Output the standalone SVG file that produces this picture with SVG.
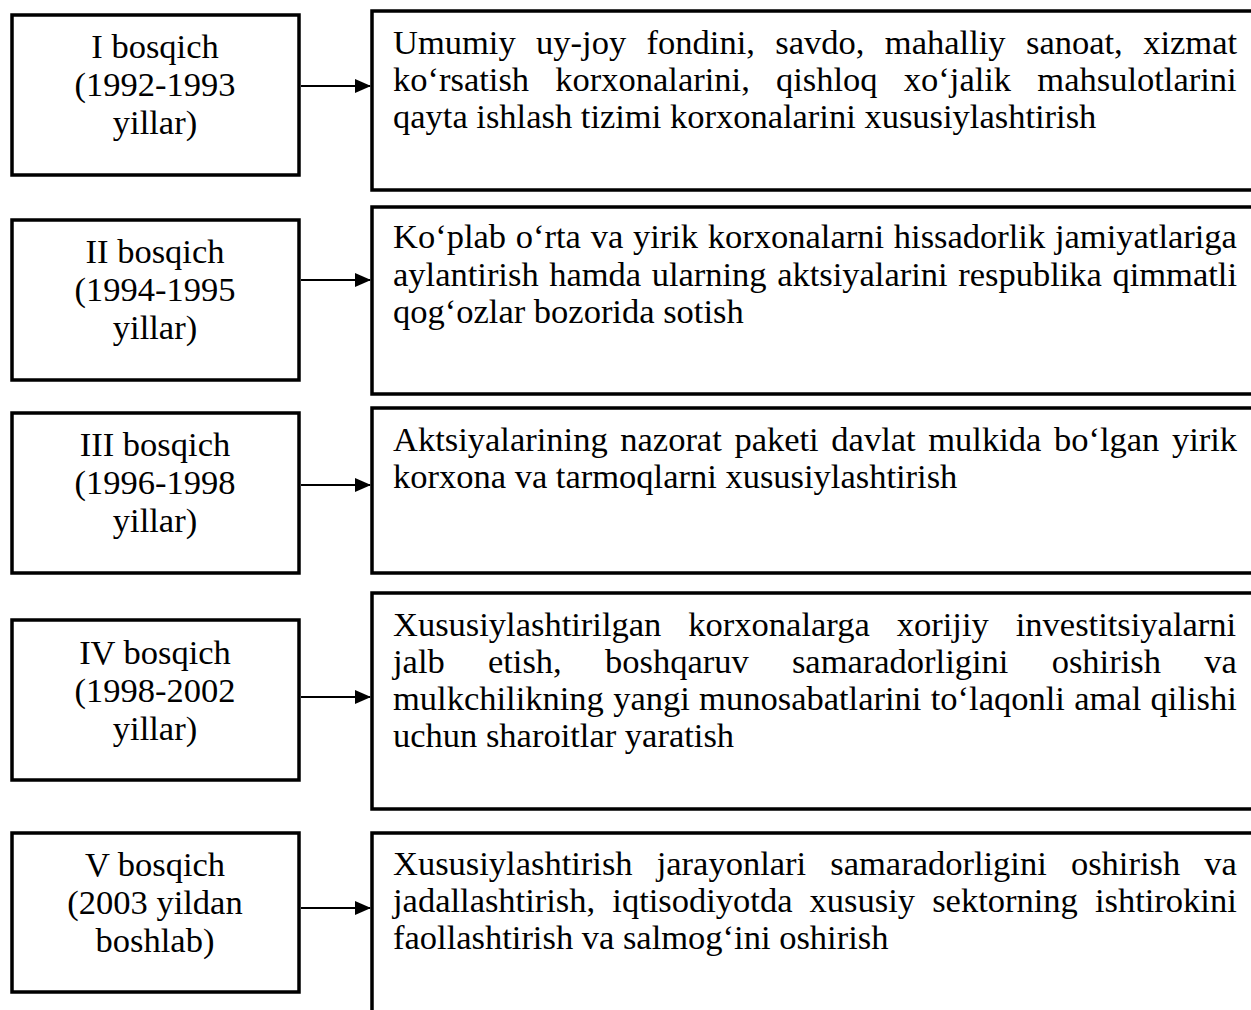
<svg xmlns="http://www.w3.org/2000/svg" width="1251" height="1010" viewBox="0 0 1251 1010">
<style>
.box{fill:#fff;stroke:#000;stroke-width:3.5}
.t{font-family:"Liberation Serif","Times New Roman",serif;font-size:34.5px;fill:#000}
.c{text-anchor:middle}
.conn{stroke:#000;stroke-width:2;fill:none}
</style>
<defs>
<marker id="ah" markerWidth="16" markerHeight="14" refX="15" refY="7" orient="auto" markerUnits="userSpaceOnUse">
<path d="M0,0 L16,7 L0,14 Z" fill="#000"/>
</marker>
</defs>
<rect width="1251" height="1010" fill="#fff"/>

<g id="stage1">
<rect class="box" x="12" y="15" width="287" height="160"/>
<text class="t c" x="155"><tspan x="155" y="57.5">I bosqich</tspan><tspan x="155" y="95.5">(1992-1993</tspan><tspan x="155" y="133.5">yillar)</tspan></text>
</g>
<g id="desc1">
<rect class="box" x="372" y="11" width="900" height="179"/>
<text class="t" x="393" y="54" style="word-spacing:11.8px">Umumiy uy-joy fondini, savdo, mahalliy sanoat, xizmat</text>
<text class="t" x="393" y="91" style="word-spacing:17.6px">ko‘rsatish korxonalarini, qishloq xo‘jalik mahsulotlarini</text>
<text class="t" x="393" y="128">qayta ishlash tizimi korxonalarini xususiylashtirish</text>
</g>

<g id="stage2">
<rect class="box" x="12" y="220" width="287" height="160"/>
<text class="t c" x="155"><tspan x="155" y="263">II bosqich</tspan><tspan x="155" y="301">(1994-1995</tspan><tspan x="155" y="339">yillar)</tspan></text>
</g>
<g id="desc2">
<rect class="box" x="372" y="207" width="900" height="187"/>
<text class="t" x="393" y="248" style="word-spacing:1.1px">Ko‘plab o‘rta va yirik korxonalarni hissadorlik jamiyatlariga</text>
<text class="t" x="393" y="285.5" style="word-spacing:1.9px">aylantirish hamda ularning aktsiyalarini respublika qimmatli</text>
<text class="t" x="393" y="323">qog‘ozlar bozorida sotish</text>
</g>

<g id="stage3">
<rect class="box" x="12" y="413" width="287" height="160"/>
<text class="t c" x="155"><tspan x="155" y="455.5">III bosqich</tspan><tspan x="155" y="493.5">(1996-1998</tspan><tspan x="155" y="531.5">yillar)</tspan></text>
</g>
<g id="desc3">
<rect class="box" x="372" y="408" width="900" height="165"/>
<text class="t" x="393" y="451" style="word-spacing:4px">Aktsiyalarining nazorat paketi davlat mulkida bo‘lgan yirik</text>
<text class="t" x="393" y="488">korxona va tarmoqlarni xususiylashtirish</text>
</g>

<g id="stage4">
<rect class="box" x="12" y="620" width="287" height="160"/>
<text class="t c" x="155"><tspan x="155" y="664">IV bosqich</tspan><tspan x="155" y="702">(1998-2002</tspan><tspan x="155" y="740">yillar)</tspan></text>
</g>
<g id="desc4">
<rect class="box" x="372" y="593" width="900" height="216"/>
<text class="t" x="393" y="636" style="word-spacing:18.4px">Xususiylashtirilgan korxonalarga xorijiy investitsiyalarni</text>
<text class="t" x="393" y="673" style="word-spacing:34.6px">jalb etish, boshqaruv samaradorligini oshirish va</text>
<text class="t" x="393" y="710" style="word-spacing:0.7px">mulkchilikning yangi munosabatlarini to‘laqonli amal qilishi</text>
<text class="t" x="393" y="747">uchun sharoitlar yaratish</text>
</g>

<g id="stage5">
<rect class="box" x="12" y="833" width="287" height="159"/>
<text class="t c" x="155"><tspan x="155" y="876">V bosqich</tspan><tspan x="155" y="914">(2003 yildan</tspan><tspan x="155" y="952">boshlab)</tspan></text>
</g>
<g id="desc5">
<rect class="box" x="372" y="833" width="900" height="220"/>
<text class="t" x="393" y="875" style="word-spacing:15.5px">Xususiylashtirish jarayonlari samaradorligini oshirish va</text>
<text class="t" x="393" y="912" style="word-spacing:8.5px">jadallashtirish, iqtisodiyotda xususiy sektorning ishtirokini</text>
<text class="t" x="393" y="949">faollashtirish va salmog‘ini oshirish</text>
</g>

<g id="connectors">
<line class="conn" x1="301" y1="86" x2="370" y2="86" marker-end="url(#ah)"/>
<line class="conn" x1="301" y1="280" x2="370" y2="280" marker-end="url(#ah)"/>
<line class="conn" x1="301" y1="485" x2="370" y2="485" marker-end="url(#ah)"/>
<line class="conn" x1="301" y1="697" x2="370" y2="697" marker-end="url(#ah)"/>
<line class="conn" x1="301" y1="908" x2="370" y2="908" marker-end="url(#ah)"/>
</g>
</svg>
